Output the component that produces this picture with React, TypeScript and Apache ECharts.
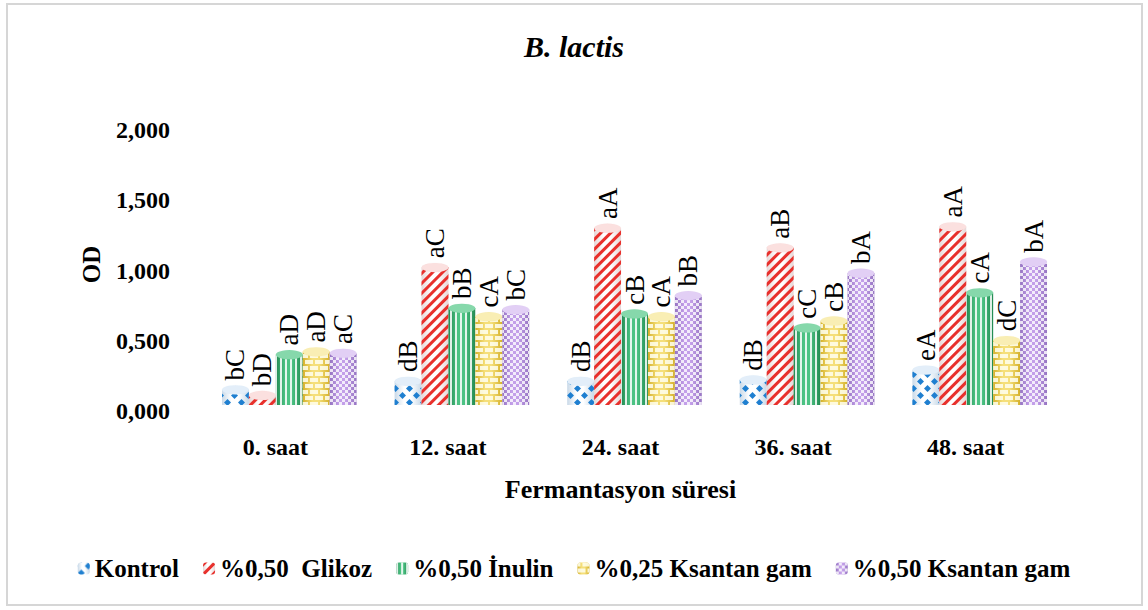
import React, { useEffect, useRef } from "react";
import * as echarts from "echarts";

const categories = ["0. saat", "12. saat", "24. saat", "36. saat", "48. saat"];
const seriesNames = ["Kontrol", "%0,50  Glikoz", "%0,50 İnulin", "%0,25 Ksantan gam", "%0,50 Ksantan gam"];
const kontrol = [0.11, 0.17, 0.17, 0.18, 0.25];
const glikoz = [0.07, 0.98, 1.26, 1.12, 1.27];
const inulin = [0.36, 0.69, 0.65, 0.55, 0.8];
const ksantan25 = [0.38, 0.63, 0.63, 0.6, 0.46];
const ksantan50 = [0.37, 0.68, 0.78, 0.94, 1.02];
const kontrolLbl = ["bC", "dB", "dB", "dB", "eA"];
const glikozLbl = ["bD", "aC", "aA", "aB", "aA"];
const inulinLbl = ["aD", "bB", "cB", "cC", "cA"];
const ksantan25Lbl = ["aD", "cA", "cA", "cB", "dC"];
const ksantan50Lbl = ["aC", "bC", "bB", "bA", "bA"];
const yTicks = [0, 0.5, 1, 1.5, 2];

const FONT = "Liberation Serif";

function cyl(base: string, dark: string) {
  return new echarts.graphic.LinearGradient(0, 0, 1, 0, [
    { offset: 0, color: dark },
    { offset: 0.35, color: base },
    { offset: 0.6, color: base },
    { offset: 1, color: dark },
  ]);
}

export default function App() {
  const ref = useRef<HTMLDivElement>(null);
  useEffect(() => {
    if (!ref.current) return;
    const chart = echarts.init(ref.current, undefined, { renderer: "svg" });
    const datas = [kontrol, glikoz, inulin, ksantan25, ksantan50];
    const lbls = [kontrolLbl, glikozLbl, inulinLbl, ksantan25Lbl, ksantan50Lbl];
    const capColors = ["#e3eef9", "#fbe0df", "#86d8ab", "#f9eeb4", "#e2cff5"];
    const capStroke = ["#8fb6de", "#e58a88", "#2f9a60", "#d8bb45", "#a487cc"];
    const styles = [
      {
        color: cyl("#ffffff", "#c9d9e8"),
        decal: { symbol: "diamond", color: "#1f7fd0", symbolSize: 1, dashArrayX: [[7, 7], [0, 7, 7, 0]], dashArrayY: [7, 0], rotation: 0 },
      },
      {
        color: cyl("#ffffff", "#e6d6d6"),
        decal: { symbol: "rect", color: "#e8302c", symbolSize: 1, rotation: -Math.PI / 4, dashArrayX: [1, 0], dashArrayY: [3, 4] },
      },
      {
        color: cyl("#4cc283", "#238a52"),
        decal: { symbol: "rect", color: "rgba(255,255,255,0.85)", symbolSize: 1, rotation: 0, dashArrayX: [2, 3], dashArrayY: [1, 0] },
      },
      {
        color: cyl("#f5df7a", "#d4b02a"),
        decal: { symbol: "rect", color: "rgba(255,255,240,0.85)", symbolSize: 1, rotation: 0, dashArrayX: [[8, 2], [3, 2, 5, 0]], dashArrayY: [4, 2] },
      },
      {
        color: cyl("#c39fe9", "#9674c2"),
        decal: { symbol: "rect", color: "rgba(255,255,255,0.8)", symbolSize: 1, rotation: 0, dashArrayX: [[3, 3], [0, 3, 3, 0]], dashArrayY: [3, 0] },
      },
    ];
    const bars = datas.map((d, i) => ({
      name: seriesNames[i],
      type: "bar",
      data: d,
      barGap: "0%",
      barCategoryGap: "22%",
      itemStyle: styles[i],
      z: 2,
      label: {
        show: true,
        position: "top",
        rotate: 90,
        align: "left",
        verticalAlign: "middle",
        distance: 9,
        fontFamily: FONT,
        fontSize: 27,
        color: "#000",
        formatter: (p: any) => lbls[i][p.dataIndex],
      },
    }));
    const caps = datas.map((d, i) => ({
      name: seriesNames[i] + " cap",
      type: "pictorialBar",
      data: d,
      barGap: "0%",
      barCategoryGap: "22%",
      symbol: "circle",
      symbolSize: ["100%", 9],
      symbolPosition: "end",
      symbolOffset: [0, "-50%"],
      z: 3,
      itemStyle: { color: capColors[i], borderColor: capStroke[i], borderWidth: 0.8 },
      silent: true,
    }));
    chart.setOption({
      animation: false,
      title: {
        text: "B. lactis",
        left: "center",
        top: 26,
        textStyle: { fontFamily: FONT, fontSize: 30, fontWeight: "bold", fontStyle: "italic", color: "#000" },
      },
      graphic: [
        {
          type: "rect",
          shape: { x: 7, y: 4, width: 1135, height: 601 },
          style: { fill: "none", stroke: "#d6d6d6", lineWidth: 2 },
          silent: true,
        },
      ],
      legend: {
        data: seriesNames,
        bottom: 24,
        left: "center",
        itemWidth: 12,
        itemHeight: 12,
        itemGap: 24,
        textStyle: { fontFamily: FONT, fontSize: 25, fontWeight: "bold", color: "#000" },
      },
      grid: { left: 203, right: 82, top: 124, bottom: 205 },
      xAxis: {
        type: "category",
        data: categories,
        name: "Fermantasyon süresi",
        nameLocation: "middle",
        nameGap: 71,
        nameTextStyle: { fontFamily: FONT, fontSize: 26, fontWeight: "bold", color: "#000", padding: [0, 28, 0, 0] },
        axisLine: { show: false },
        axisTick: { show: false },
        axisLabel: { margin: 30, fontFamily: FONT, fontSize: 24, fontWeight: "bold", color: "#000", padding: [0, 28, 0, 0] },
      },
      yAxis: {
        type: "value",
        min: 0,
        max: 2,
        interval: 0.5,
        name: "OD",
        nameLocation: "middle",
        nameGap: 99,
        nameRotate: 90,
        nameTextStyle: { fontFamily: FONT, fontSize: 25, fontWeight: "bold", color: "#000" },
        splitLine: { show: false },
        axisLine: { show: false },
        axisTick: { show: false },
        axisLabel: {
          margin: 33,
          fontFamily: FONT,
          fontSize: 24,
          fontWeight: "bold",
          color: "#000",
          verticalAlign: "top",
          lineHeight: 12,
          formatter: (v: number) => {
            const t = yTicks.find((x) => Math.abs(x - v) < 1e-9);
            return (t ?? v).toFixed(3).replace(".", ",");
          },
        },
      },
      series: [...bars, ...caps],
    });
    return () => chart.dispose();
  }, []);
  return <div ref={ref} style={{ position: "absolute", left: 0, top: 0, width: 1148, height: 610, background: "#fff" }} />;
}
